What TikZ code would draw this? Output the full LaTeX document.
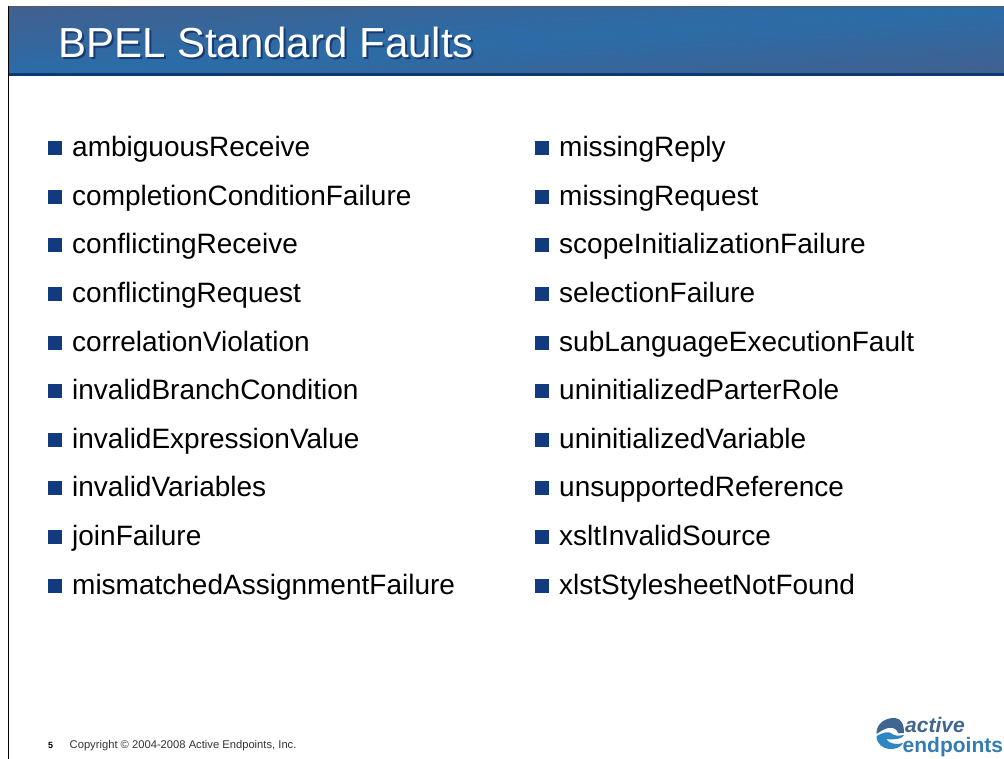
\documentclass[tikz,border=0pt]{standalone}
\usepackage{fontspec}
\setmainfont{Liberation Sans}
\definecolor{bandgray}{HTML}{42608F}
\definecolor{bandblue}{HTML}{2B6CA8}
\definecolor{banddark}{HTML}{0A3A70}
\definecolor{titleshadow}{HTML}{163A72}
\definecolor{bullet}{HTML}{123A7E}
\definecolor{logodark}{HTML}{3F6690}
\definecolor{logolight}{HTML}{2F86C4}
\tikzset{
  x=1pt,y=-1pt,
  item/.style={anchor=base west,inner sep=0pt,font=\fontsize{28}{28}\selectfont,text=black},
  titletext/.style={anchor=base west,inner sep=0pt,font=\fontsize{42}{42}\selectfont},
  bulletbox/.style={fill=bullet,draw=none}
}
\newcommand{\faultrow}[4]{%
  \fill[bulletbox] (#1,#2-6) rectangle +(13.5,14);
  \node[item] (#4) at (#1+24,#2+9.5) {#3};
}
\begin{document}
\begin{tikzpicture}
\useasboundingbox (0,0) rectangle (1004,759);
\fill[white] (0,0) rectangle (1004,759);
% title band
\begin{scope}
\clip (9,7) rectangle (1004,74);
\fill[bandgray] (9,7) rectangle (1004,74);
\foreach \i in {1,...,80}{
  \pgfmathsetmacro{\t}{\i/40}
  \pgfmathsetmacro{\m}{100*(1-abs(\t-1))}
  \fill[bandblue!\m!bandgray] (9,{7+67*\t}) -- (1004,{7+67*(\t-1)}) -- (1004,300) -- (9,300) -- cycle;
}
\end{scope}
\fill[banddark] (9,73) rectangle (1004,76);
\fill[black!65] (9,6) rectangle (1004,7.2);
\draw[black,line width=1.2] (8.5,6) -- (8.5,759);
% title
\node[titletext,text=titleshadow] (titleshade) at (60.2,60) {BPEL Standard Faults};
\node[titletext,text=white] (title) at (58,58) {BPEL Standard Faults};
% left column
\faultrow{48}{147}{ambiguousReceive}{l1}
\faultrow{48}{196}{completionConditionFailure}{l2}
\faultrow{48}{244}{conflictingReceive}{l3}
\faultrow{48}{293}{conflictingRequest}{l4}
\faultrow{48}{342}{correlationViolation}{l5}
\faultrow{48}{390}{invalidBranchCondition}{l6}
\faultrow{48}{439}{invalidExpressionValue}{l7}
\faultrow{48}{487}{invalidVariables}{l8}
\faultrow{48}{536}{joinFailure}{l9}
\faultrow{48}{585}{mismatchedAssignmentFailure}{l10}
% right column
\faultrow{535}{147}{missingReply}{r1}
\faultrow{535}{196}{missingRequest}{r2}
\faultrow{535}{244}{scopeInitializationFailure}{r3}
\faultrow{535}{293}{selectionFailure}{r4}
\faultrow{535}{342}{subLanguageExecutionFault}{r5}
\faultrow{535}{390}{uninitializedParterRole}{r6}
\faultrow{535}{439}{uninitializedVariable}{r7}
\faultrow{535}{487}{unsupportedReference}{r8}
\faultrow{535}{536}{xsltInvalidSource}{r9}
\faultrow{535}{585}{xlstStylesheetNotFound}{r10}
% footer
\node[anchor=base west,inner sep=0pt,font=\bfseries\fontsize{9}{9}\selectfont] (pagenum) at (48,748.5) {5};
\node[anchor=base west,inner sep=0pt,font=\fontsize{11.2}{11.2}\selectfont,text=black!80] (copy) at (69.5,748.5) {Copyright © 2004-2008 Active Endpoints, Inc.};
% logo
\fill[logodark] (876.5,734) .. controls (876,723) and (886,717.5) .. (895,718) .. controls (901,718.5) and (904,724) .. (904,733) -- (898,733) .. controls (897,729) and (893,727) .. (888,728) .. controls (884,729) and (881,731) .. (876.5,734) -- cycle;
\fill[logolight] (876.5,736) .. controls (884,732) and (888,731.5) .. (891,733) .. controls (893,736) and (899,736) .. (904,735) .. controls (903,739) and (893,740) .. (886,739) .. controls (889,744) and (897,745) .. (903,743) .. controls (899,752) and (877,752) .. (876.5,736) -- cycle;
\node[anchor=base west,inner sep=0pt,font=\bfseries\itshape\fontsize{21}{21}\selectfont,text=logodark] (logoa) at (905,732) {active};
\node[anchor=base west,inner sep=0pt,font=\bfseries\fontsize{21}{21}\selectfont,text=logolight!70!logodark] (logoe) at (902.5,752) {endpoints};
\end{tikzpicture}
\end{document}
